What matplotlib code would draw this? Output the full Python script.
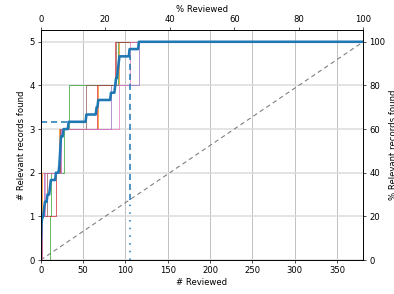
import numpy as np
import matplotlib
matplotlib.use("Agg")
import matplotlib.pyplot as plt

# Data
n_records = 381
n_relevant = 5
run_colors = ["tab:orange", "tab:green", "tab:red", "tab:purple", "tab:brown", "tab:pink"]
# record index at which each relevant record was found, per run
run_orange = [0, 2, 22, 68, 93]
run_green = [11, 12, 27, 33, 91]
run_red = [0, 18, 23, 66, 88]
run_purple = [1, 4, 24, 83, 116]
run_brown = [1, 8, 23, 54, 89]
run_pink = [1, 5, 24, 92, 105]
runs = [run_orange, run_green, run_red, run_purple, run_brown, run_pink]

erf_x = 33          # horizontal marker end
wss_x = 105         # vertical marker position
wss_top = 4.7

dpi = 394 / 6.4
fig = plt.figure(figsize=(6.4, 294 / dpi), dpi=dpi)
ax = fig.add_axes([40.7 / 394, 1 - 260 / 294, (363.3 - 40.7) / 394, (260 - 30) / 294])

x = np.arange(0, n_records + 1)
curves = []
for r, c in zip(runs, run_colors):
    y = np.searchsorted(np.sort(r), x, side="right")
    curves.append(y)
    ax.step(x, y, where="post", color=c, lw=1.1, alpha=0.75, zorder=3)
mean = np.mean(curves, axis=0)
ax.plot(x, mean, color="tab:blue", lw=3.0, zorder=5)

# random line
ax.plot([0, n_records], [0, n_relevant], ls=(0, (4, 3)), color="gray", lw=1.3, zorder=2)

# markers
erf_y = mean[erf_x]
ax.plot([0, erf_x], [erf_y, erf_y], ls=(0, (4, 2.5)), color="tab:blue", lw=1.8, zorder=4)
rand_y = n_relevant * wss_x / n_records
ax.plot([wss_x, wss_x], [rand_y, wss_top], ls=(0, (4, 2.5)), color="tab:blue", lw=1.8, zorder=4)
ax.plot([wss_x, wss_x], [0, rand_y], ls=(0, (1, 4)), color="tab:blue", lw=1.8, zorder=4)

ytop = 5.27
ax.set_xlim(0, n_records)
ax.set_ylim(0, ytop)
ax.set_xticks(np.arange(0, 351, 50))
ax.set_yticks(np.arange(0, 6, 1))
ax.set_xlabel("# Reviewed")
ax.set_ylabel("# Relevant records found")
ax.xaxis.grid(True, color="#b0b0b0", lw=0.9)
ax.yaxis.grid(True, color="#dcdcdc", lw=1.8)
ax.set_axisbelow(True)

ax2 = ax.twinx()
ax2.set_ylim(0, ytop * 20)
ax2.set_yticks(np.arange(0, 101, 20))
ax2.set_ylabel("% Relevant records found")

ax3 = ax.twiny()
ax3.set_xlim(0, 100)
ax3.set_xticks(np.arange(0, 101, 20))
ax3.set_xlabel("% Reviewed")

fig.savefig("out.png", dpi=dpi)
